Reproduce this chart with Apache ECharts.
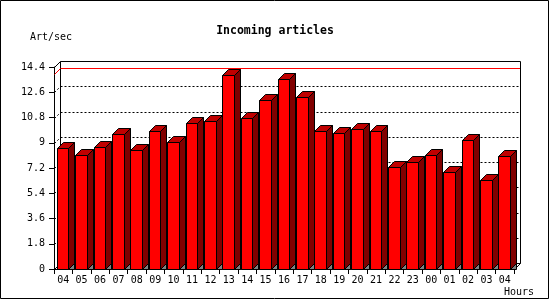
<!DOCTYPE html>
<html><head><meta charset="utf-8">
<script src="https://cdn.jsdelivr.net/npm/echarts@6/dist/echarts.min.js"></script>
<style>html,body{margin:0;padding:0;background:#fff}#c{width:550px;height:300px}</style>
</head><body><div id="c"></div>
<script>
const chartTitle = 'Incoming articles';
const yAxisTitle = 'Art/sec';
const xAxisTitle = 'Hours';
const hours = ['04','05','06','07','08','09','10','11','12','13','14','15','16','17','18','19','20','21','22','23','00','01','02','03','04'];
const artPerSec = [8.62,8.12,8.70,9.62,8.50,9.86,9.05,10.41,10.57,13.83,10.76,12.05,13.54,12.26,9.86,9.71,10.0,9.86,7.29,7.62,8.12,6.91,9.22,6.34,8.05];
const yMin = 0, yMax = 14.4, yStep = 1.8;
const gridTicks = [1.8,3.6,5.4,7.2,9,10.8,12.6];
const maxLineValue = Math.max(...artPerSec);

const DEPTH = 6;
const FONT = '"DejaVu Sans Mono", "Liberation Mono", monospace';
const px = v => Math.round(v) + 0.5;

const chart = echarts.init(document.getElementById('c'), null, {renderer: 'canvas'});

function frameRender(params, api) {
  const cs = params.coordSys;
  const L = px(cs.x), R = px(cs.x + cs.width);
  const T = px(cs.y), B = px(cs.y + cs.height);
  const d = DEPTH;
  const kids = [];
  const solid = () => ({stroke: '#000000', lineWidth: 1, fill: 'none'});
  const dotted = () => ({stroke: '#000000', lineWidth: 1, lineDash: [2, 2], fill: 'none'});
  // back wall
  kids.push({type: 'rect', shape: {x: L + d, y: T - d, width: R - L, height: B - T}, style: solid()});
  // left wall diagonals
  kids.push({type: 'line', shape: {x1: L, y1: T, x2: L + d, y2: T - d}, style: solid()});
  kids.push({type: 'line', shape: {x1: L, y1: B, x2: L + d, y2: B - d}, style: solid()});
  // floor right diagonal
  kids.push({type: 'line', shape: {x1: R, y1: B, x2: R + d, y2: B - d}, style: solid()});
  // dotted grid lines on back wall and left wall
  gridTicks.forEach(v => {
    const y = px(api.coord([0, v])[1]);
    kids.push({type: 'line', shape: {x1: L + d, y1: y - d, x2: R + d, y2: y - d}, style: dotted()});
    kids.push({type: 'line', shape: {x1: L, y1: y, x2: L + d, y2: y - d}, style: dotted()});
  });
  // max line (red) on back wall + left wall diagonal
  const ym = Math.round(api.coord([0, maxLineValue])[1]);
  kids.push({type: 'rect', z2: 50, shape: {x: L + d + 0.5, y: ym - d - 1, width: R - L - 1, height: 1}, style: {fill: '#ff0000', stroke: 'none'}});
  kids.push({type: 'line', z2: 50, shape: {x1: L, y1: ym - 0.5, x2: L + d, y2: ym - d - 0.5}, style: {stroke: '#ff0000', lineWidth: 1, fill: 'none'}});
  return {type: 'group', children: kids};
}

function barRender(params, api) {
  const i = api.value(0), v = api.value(1);
  const top = api.coord([i, v]);
  const base = api.coord([i, 0]);
  const bw = api.size([1, 0])[0];
  const s = top[0] - bw / 2;
  const x0 = px(s + bw * 0.15);
  const x1 = px(s + bw * 0.78);
  const yT = px(top[1]);
  const yB = px(base[1]);
  const d = DEPTH;
  return {type: 'group', children: [
    {type: 'polygon', shape: {points: [[x1, yB], [x1 + d, yB - d], [x1 + d, yB]]}, style: {fill: '#808080', stroke: '#000', lineWidth: 1}},
    {type: 'rect', shape: {x: x0, y: yT, width: x1 - x0, height: yB - yT}, style: {fill: '#ff0000', stroke: '#000', lineWidth: 1}},
    {type: 'polygon', shape: {points: [[x0, yT], [x0 + d, yT - d], [x1 + d, yT - d], [x1, yT]]}, style: {fill: '#c00000', stroke: '#000', lineWidth: 1}},
    {type: 'polygon', shape: {points: [[x1, yT], [x1 + d, yT - d], [x1 + d, yB - d], [x1, yB]]}, style: {fill: '#800000', stroke: '#000', lineWidth: 1}}
  ]};
}

chart.setOption({
  animation: false,
  backgroundColor: '#fff',
  title: {
    text: chartTitle, left: 'center', top: 20,
    textStyle: {fontFamily: FONT, fontSize: 11.5, fontWeight: 'bold', color: '#000'}
  },
  grid: {left: 54, top: 67, width: 460, height: 202, containLabel: false},
  xAxis: {
    type: 'category', data: hours, boundaryGap: true,
    axisLine: {show: true, lineStyle: {color: '#000', width: 1}},
    axisTick: {show: true, length: 5, alignWithLabel: false, interval: 0, lineStyle: {color: '#000'}},
    axisLabel: {interval: 0, margin: 6, color: '#000', fontFamily: FONT, fontSize: 10},
    splitLine: {show: false}
  },
  yAxis: {
    type: 'value', min: yMin, max: yMax, interval: yStep,
    axisLine: {show: true, lineStyle: {color: '#000', width: 1}},
    axisTick: {show: true, length: 5, lineStyle: {color: '#000'}},
    axisLabel: {margin: 9, color: '#000', fontFamily: FONT, fontSize: 10},
    splitLine: {show: false}
  },
  graphic: [
    {type: 'rect', shape: {x: 0.5, y: 0.5, width: 548, height: 298}, style: {fill: null, stroke: '#000', lineWidth: 1}, z: 100},
    {type: 'text', x: 30, y: 37, style: {text: yAxisTitle, font: '10px ' + FONT, fill: '#000', textVerticalAlign: 'middle'}},
    {type: 'text', x: 504, y: 292, style: {text: xAxisTitle, font: '10px ' + FONT, fill: '#000', textVerticalAlign: 'middle'}}
  ],
  series: [
    {type: 'custom', name: 'frame', renderItem: frameRender, data: [[0, 0]], silent: true, z: 1},
    {type: 'custom', name: 'Incoming articles', renderItem: barRender,
     data: artPerSec.map((v, i) => [i, v]), z: 2}
  ]
});
</script>
</body></html>
